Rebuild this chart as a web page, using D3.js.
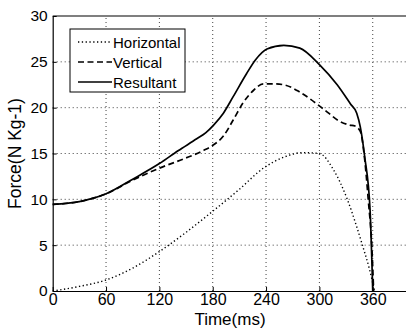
<!DOCTYPE html>
<html>
<head>
<meta charset="utf-8">
<script src="https://cdn.jsdelivr.net/npm/d3@7"></script>
<style>
  body { margin: 0; background: #fff; }
  svg { display: block; font-family: "Liberation Sans", Arial, sans-serif; }
</style>
</head>
<body>
<div id="chart"></div>
<script>
// time (ms) and force (N/kg)
const timeR = [0, 30, 60, 90, 120, 141, 162, 172, 181, 192, 203, 218, 228, 241, 260, 278, 300, 320, 335, 342, 346, 351, 357, 360];
const resultant = [9.45, 9.75, 10.6, 12.2, 13.9, 15.3, 16.6, 17.25, 18.1, 19.4, 21.2, 23.7, 25.2, 26.4, 26.8, 26.5, 24.7, 22.5, 20.4, 19.4, 17.9, 14.6, 8.8, 0];

const timeV = [0, 30, 60, 90, 120, 147, 170, 181, 192, 203, 214, 226, 237, 250, 262, 278, 304, 323, 334, 340, 346, 351, 355, 359, 361];
const vertical = [9.45, 9.75, 10.6, 12.1, 13.4, 14.4, 15.35, 15.95, 16.9, 18.65, 20.5, 21.9, 22.6, 22.6, 22.45, 21.7, 19.9, 18.5, 18.1, 18.0, 17.4, 14.3, 9.9, 4.8, 0];

const timeH = [0, 30, 60, 90, 120, 150, 180, 210, 237, 260, 282, 300, 316, 331, 342, 349, 356, 362];
const horizontal = [0, 0.5, 1.2, 2.5, 4.3, 6.4, 8.7, 11.1, 13.4, 14.6, 15.1, 15.0, 13.2, 10.1, 7.0, 4.8, 2.5, 0];

const xTicks = [0, 60, 120, 180, 240, 300, 360];
const yTicks = [0, 5, 10, 15, 20, 25, 30];

const width = 406, height = 330;
const margin = { top: 16, left: 52.7, bottom: 39 };

const svg = d3.select("#chart").append("svg")
    .attr("width", width)
    .attr("height", height);

const x = d3.scaleLinear().domain([0, 400]).range([margin.left, 408.3]);
const y = d3.scaleLinear().domain([0, 30]).range([height - margin.bottom, margin.top]);

// grid
const grid = svg.append("g").attr("stroke", "#222").attr("stroke-width", 1)
    .attr("stroke-dasharray", "1,3").attr("opacity", 0.85);
grid.selectAll(".vg").data(xTicks.slice(1)).join("line")
    .attr("x1", d => x(d)).attr("x2", d => x(d))
    .attr("y1", y(0)).attr("y2", y(30));
grid.selectAll(".hg").data(yTicks.slice(1, -1)).join("line")
    .attr("x1", x(0)).attr("x2", width)
    .attr("y1", d => y(d)).attr("y2", d => y(d));

// axes
svg.append("g")
    .attr("transform", `translate(0, ${y(0)})`)
    .call(d3.axisBottom(x).tickValues(xTicks).tickSizeInner(-4).tickSizeOuter(0).tickPadding(3))
    .call(g => g.select(".domain").attr("stroke-width", 1.2))
    .call(g => g.selectAll("text").attr("font-size", 16).attr("fill", "#000").attr("font-family", "Liberation Sans, Arial"));

svg.append("g")
    .attr("transform", `translate(${x(0)}, 0)`)
    .call(d3.axisLeft(y).tickValues(yTicks).tickSizeInner(-4).tickSizeOuter(0).tickPadding(5))
    .call(g => g.select(".domain").attr("stroke-width", 1.2))
    .call(g => g.selectAll("text").attr("font-size", 15.5).attr("fill", "#000").attr("font-family", "Liberation Sans, Arial"));

// top frame
svg.append("line")
    .attr("x1", x(0)).attr("x2", width)
    .attr("y1", y(30)).attr("y2", y(30))
    .attr("stroke", "#000").attr("stroke-width", 1.2);

// series
const series = [
  { name: "Horizontal", t: timeH, v: horizontal, dash: "1.3,2.5", w: 1.4 },
  { name: "Vertical", t: timeV, v: vertical, dash: "6,3.5", w: 1.7 },
  { name: "Resultant", t: timeR, v: resultant, dash: null, w: 1.7 }
];

const line = d3.line()
    .x(d => x(d[0]))
    .y(d => y(d[1]))
    .curve(d3.curveMonotoneX);

svg.append("g").selectAll("path").data(series).join("path")
    .attr("d", s => line(s.t.map((t, i) => [t, s.v[i]])))
    .attr("fill", "none")
    .attr("stroke", "#000")
    .attr("stroke-width", s => s.w)
    .attr("stroke-dasharray", s => s.dash);

// legend
const legend = svg.append("g");
legend.append("rect")
    .attr("x", 70).attr("y", 29).attr("width", 115).attr("height", 63)
    .attr("fill", "#fff").attr("stroke", "#000").attr("stroke-width", 1);
const rows = legend.selectAll(".row").data(series).join("g")
    .attr("transform", (d, i) => `translate(0, ${42 + i * 20})`);
rows.append("line")
    .attr("x1", 78).attr("x2", 112).attr("y1", 0).attr("y2", 0)
    .attr("stroke", "#000")
    .attr("stroke-width", d => d.w)
    .attr("stroke-dasharray", d => d.dash);
rows.append("text")
    .attr("x", 113).attr("y", 5.5)
    .attr("font-size", 15)
    .text(d => d.name);

// axis titles
svg.append("text")
    .attr("x", 230).attr("y", 325)
    .attr("text-anchor", "middle")
    .attr("font-size", 17)
    .text("Time(ms)");
svg.append("text")
    .attr("transform", `translate(21, ${y(15)}) rotate(-90)`)
    .attr("text-anchor", "middle")
    .attr("font-size", 17.5)
    .text("Force(N Kg-1)");
</script>
</body>
</html>
